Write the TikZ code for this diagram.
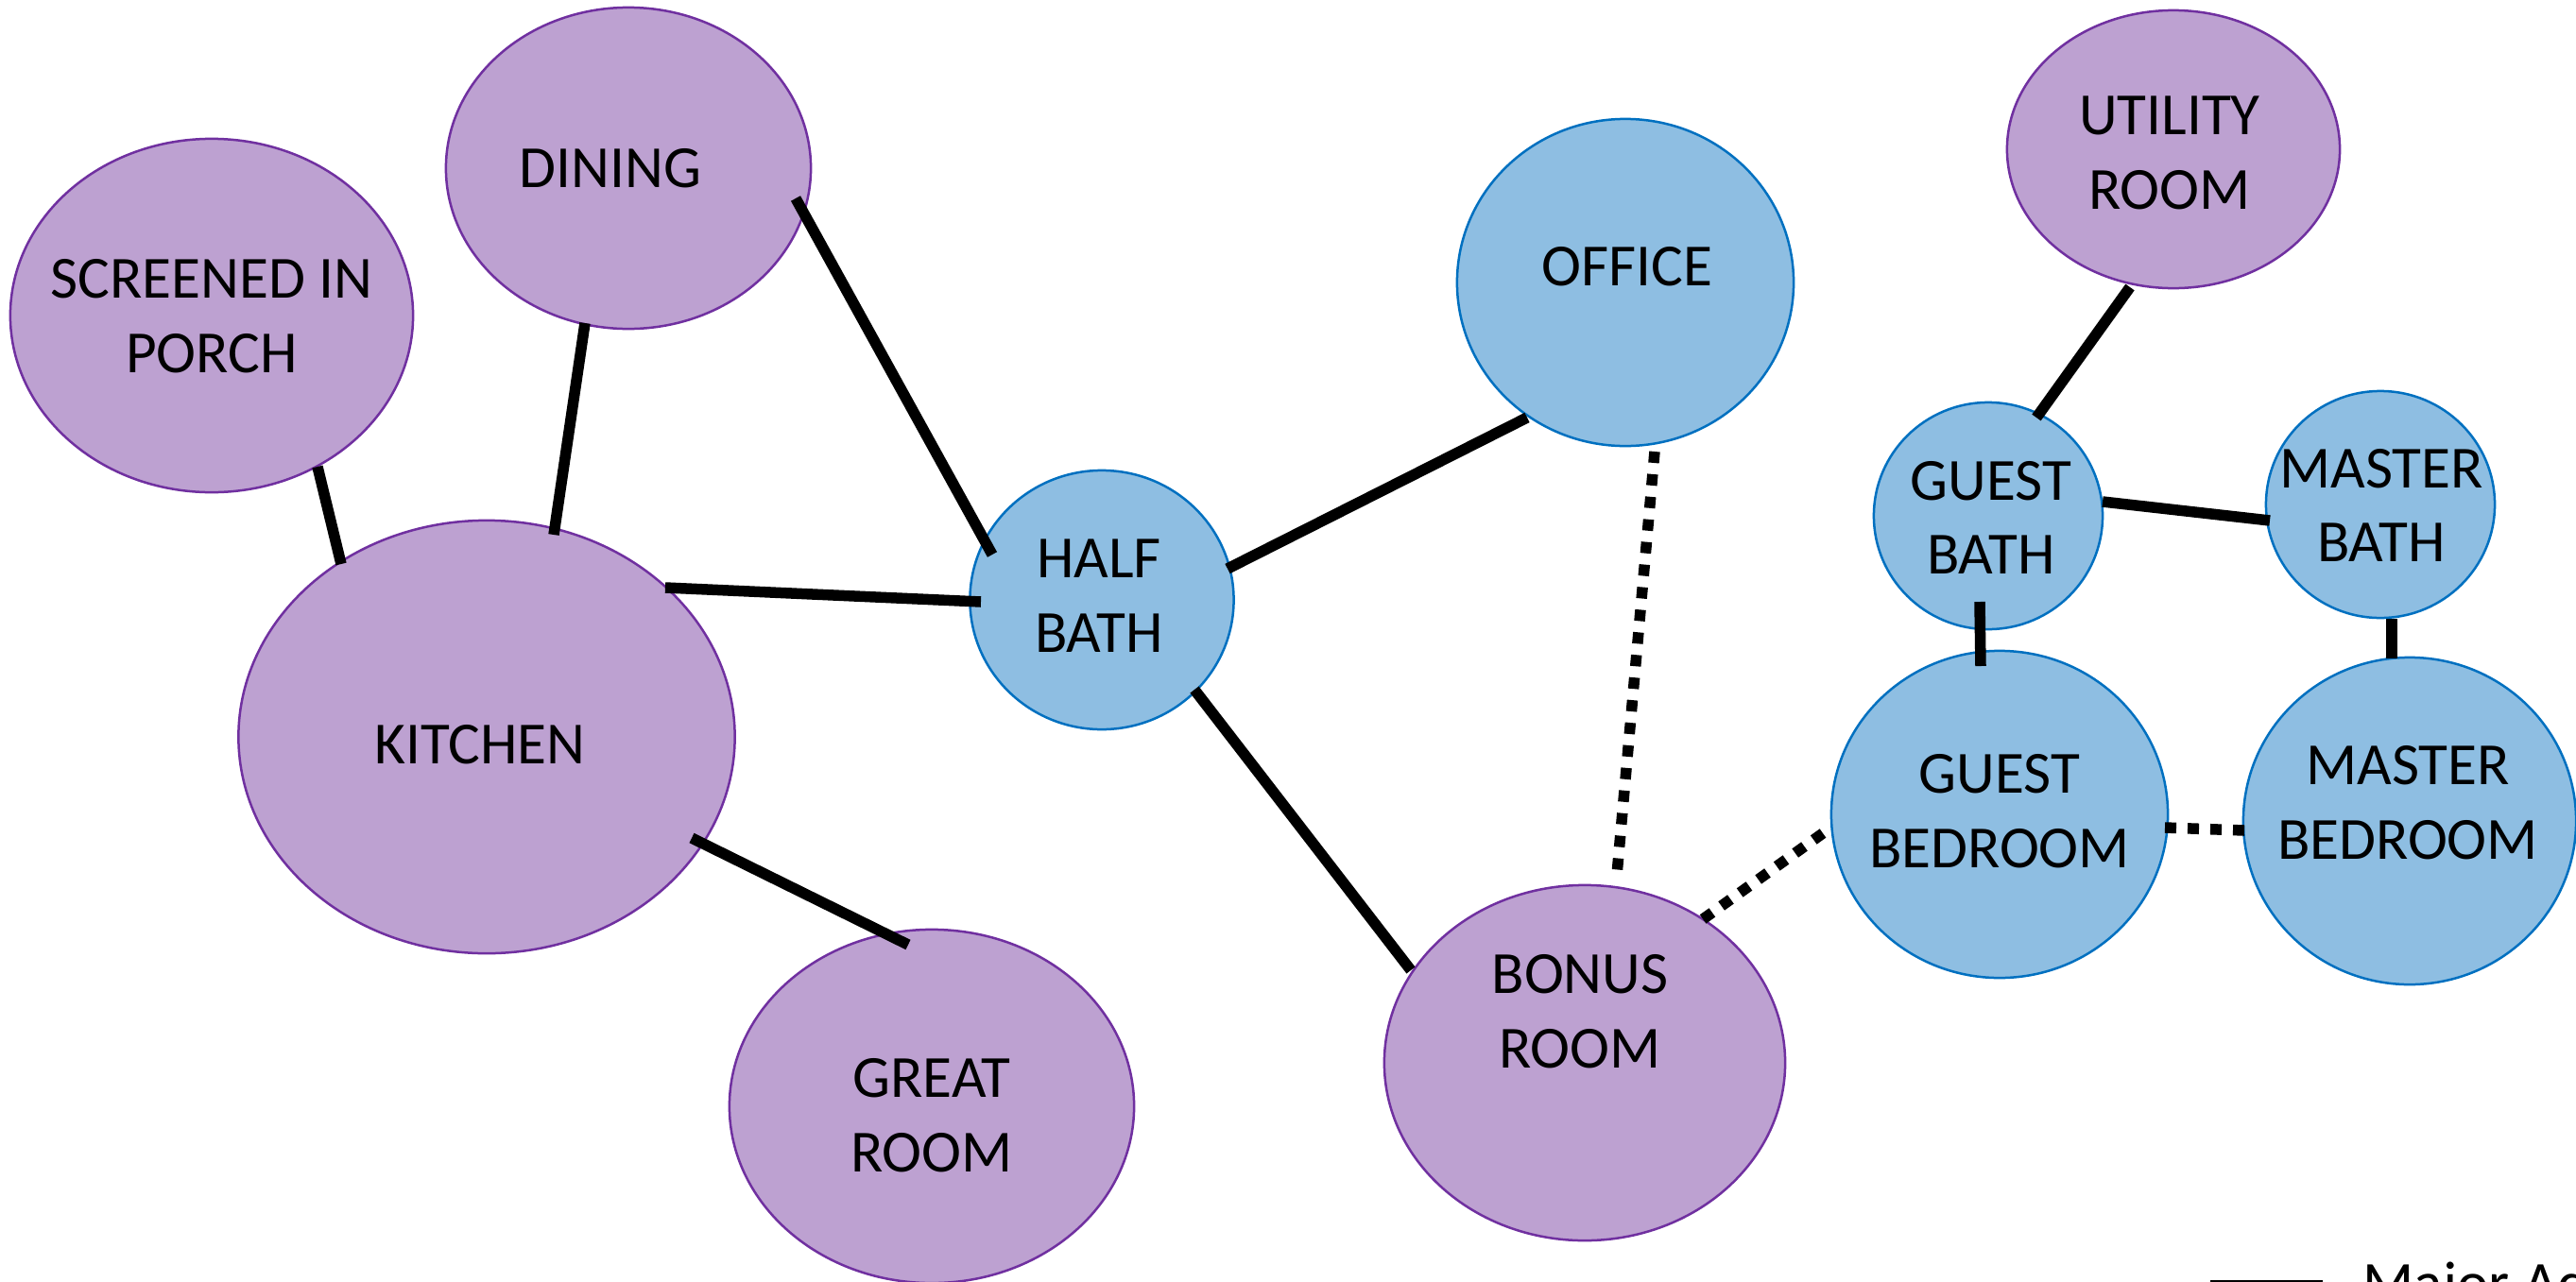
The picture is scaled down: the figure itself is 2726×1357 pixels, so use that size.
\documentclass[tikz,border=0pt]{standalone}
\usepackage{fontspec}
\setmainfont{Carlito}
\usetikzlibrary{shapes.geometric,calc}
\definecolor{pfill}{RGB}{189,161,209}
\definecolor{pdraw}{RGB}{112,48,160}
\definecolor{bfill}{RGB}{142,190,226}
\definecolor{bdraw}{RGB}{0,112,192}
\begin{document}
\begin{tikzpicture}[x=0.01cm,y=-0.01cm,
  room/.style={ellipse, inner sep=0pt, outer sep=0pt, line width=0.025cm},
  purp/.style={room, fill=pfill, draw=pdraw},
  blu/.style={room, fill=bfill, draw=bdraw},
  lbl/.style={align=center, inner sep=0pt, font=\fontsize{18}{22.4}\selectfont},
  adj/.style={line width=0.115cm},
  minor/.style={line width=0.115cm, dash pattern=on 0.12cm off 0.12cm}]
\clip (0,0) rectangle (2726,1357);
\fill[white] (0,0) rectangle (2726,1357);
% rooms
\node[purp, minimum width=4.26cm, minimum height=3.74cm] (porch) at (224,334) {};
\node[purp, minimum width=3.86cm, minimum height=3.40cm] (dining) at (665,178) {};
\node[purp, minimum width=5.25cm, minimum height=4.58cm] (kitchen) at (515,780) {};
\node[purp, minimum width=4.28cm, minimum height=3.74cm] (great) at (986,1171) {};
\node[blu, minimum width=2.79cm, minimum height=2.74cm] (halfbath) at (1166,635) {};
\node[blu, minimum width=3.56cm, minimum height=3.46cm] (office) at (1720,299) {};
\node[purp, minimum width=3.52cm, minimum height=2.94cm] (utility) at (2300,158) {};
\node[blu, minimum width=2.42cm, minimum height=2.40cm] (guestbath) at (2104,546) {};
\node[blu, minimum width=2.42cm, minimum height=2.40cm] (masterbath) at (2519,534) {};
\node[blu, minimum width=3.56cm, minimum height=3.46cm] (guestbed) at (2116,862) {};
\node[blu, minimum width=3.52cm, minimum height=3.46cm] (masterbed) at (2550,869) {};
\node[purp, minimum width=4.24cm, minimum height=3.76cm] (bonus) at (1677,1125) {};
% labels
\node[lbl] (porch-t) at (224,335) {SCREENED IN\\PORCH};
\node[lbl] (dining-t) at (646,178) {DINING};
\node[lbl] (kitchen-t) at (508,788) {KITCHEN};
\node[lbl] (great-t) at (986,1181) {GREAT\\ROOM};
\node[lbl] (halfbath-t) at (1163,631) {HALF\\BATH};
\node[lbl] (office-t) at (1722,282) {OFFICE};
\node[lbl] (utility-t) at (2296,162) {UTILITY\\ROOM};
\node[lbl] (guestbath-t) at (2107,548) {GUEST\\BATH};
\node[lbl] (masterbath-t) at (2520,535) {MASTER\\BATH};
\node[lbl] (guestbed-t) at (2116,859) {GUEST\\BEDROOM};
\node[lbl] (masterbed-t) at (2548,850) {MASTER\\BEDROOM};
\node[lbl] (bonus-t) at (1672,1071) {BONUS\\ROOM};
% major adjacencies
\draw[adj] ($(porch)+(112,160)$) -- ($(kitchen)+(-154,-183)$);
\draw[adj] ($(dining)+(-46,164)$) -- ($(kitchen)+(71,-214)$);
\draw[adj] ($(dining)+(177,32)$) -- ($(halfbath)+(-116,-48)$);
\draw[adj] ($(kitchen)+(189,-158)$) -- ($(halfbath)+(-128,2)$);
\draw[adj] ($(halfbath)+(133,-33)$) -- ($(office)+(-104,143)$);
\draw[adj] ($(halfbath)+(98,95)$) -- ($(bonus)+(-184,-98)$);
\draw[adj] ($(kitchen)+(217,107)$) -- ($(great)+(-25,-171)$);
\draw[adj] ($(utility)+(-46,146)$) -- ($(guestbath)+(51,-104)$);
\draw[adj] ($(guestbath)+(121,-15)$) -- ($(masterbath)+(-117,17)$);
\draw[adj] ($(guestbath)+(-9,91)$) -- ($(guestbed)+(-20,-157)$);
\draw[adj] ($(masterbath)+(12,121)$) -- ($(masterbed)+(-19,-172)$);
% minor adjacencies
\draw[minor] ($(office)+(31,179)$) -- ($(bonus)+(34,-199)$);
\draw[minor] ($(guestbed)+(-187,20)$) -- ($(bonus)+(125,-152)$);
\draw[minor] ($(guestbed)+(175,14)$) -- ($(masterbed)+(-175,10)$);
% legend
\coordinate (lgA) at (2339,1361);
\coordinate (lgB) at (2458,1361);
\draw[adj] (lgA) -- (lgB);
\node[lbl, anchor=base west] (lgtext) at (2500,1379) {Major Adjacency};
\end{tikzpicture}
\end{document}
